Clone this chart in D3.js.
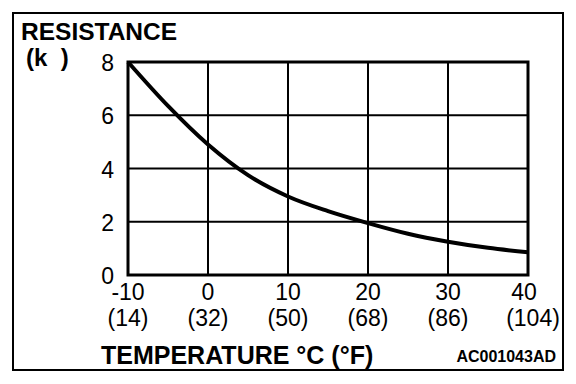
<!DOCTYPE html>
<html>
<head>
<meta charset="utf-8">
<script src="https://cdn.jsdelivr.net/npm/d3@7"></script>
<style>
  body { margin: 0; background: #fff; }
  svg { display: block; }
</style>
</head>
<body>
<svg id="chart"></svg>
<script>
const width = 576;
const height = 384;

// data
const temps = [-10, -5, 0, 5, 10, 15, 20, 25, 30, 35, 40];
const resistance = [8.0, 6.35, 4.9, 3.75, 2.95, 2.4, 1.95, 1.55, 1.25, 1.02, 0.85];
const xTicks = [-10, 0, 10, 20, 30, 40];
const xTicksF = ["(14)", "(32)", "(50)", "(68)", "(86)", "(104)"];
const yTicks = [0, 2, 4, 6, 8];

const font = "Liberation Sans, Arial, sans-serif";
const margin = { top: 62, right: 48, bottom: 109, left: 128 };

const svg = d3.select("#chart")
  .attr("width", width)
  .attr("height", height)
  .attr("viewBox", `0 0 ${width} ${height}`)
  .attr("font-family", font);

// outer frame
svg.append("rect")
  .attr("x", 13).attr("y", 13)
  .attr("width", 550).attr("height", 357)
  .attr("fill", "none").attr("stroke", "#000").attr("stroke-width", 2);

const innerWidth = width - margin.left - margin.right;
const innerHeight = height - margin.top - margin.bottom;

// scales in page coordinates
const xScale = d3.scaleLinear().domain([-10, 40]).range([margin.left, margin.left + innerWidth]);
const yScale = d3.scaleLinear().domain([0, 8]).range([margin.top + innerHeight, margin.top]);

// grid
svg.selectAll(".vgrid")
  .data(xTicks)
  .enter().append("line")
  .attr("x1", d => xScale(d)).attr("x2", d => xScale(d))
  .attr("y1", yScale(8)).attr("y2", yScale(0))
  .attr("stroke", "#000").attr("stroke-width", 2);

svg.selectAll(".hgrid")
  .data(yTicks)
  .enter().append("line")
  .attr("x1", xScale(-10)).attr("x2", xScale(40))
  .attr("y1", d => yScale(d)).attr("y2", d => yScale(d))
  .attr("stroke", "#000").attr("stroke-width", 2);

// plot frame
svg.append("rect")
  .attr("x", margin.left).attr("y", margin.top)
  .attr("width", innerWidth).attr("height", innerHeight)
  .attr("fill", "none").attr("stroke", "#000").attr("stroke-width", 3);

// y labels
svg.selectAll(".ylab")
  .data(yTicks)
  .enter().append("text")
  .attr("x", margin.left - 14)
  .attr("y", d => yScale(d) + 9)
  .attr("text-anchor", "end")
  .attr("font-size", 23)
  .text(d => d);

// x labels (°C and °F)
const last = xTicks.length - 1;
svg.selectAll(".xlab")
  .data(xTicks)
  .enter().append("text")
  .attr("x", (d, i) => xScale(d) + (i === last ? -4 : 0))
  .attr("y", yScale(0) + 25)
  .attr("text-anchor", "middle")
  .attr("font-size", 23)
  .text(d => d);

svg.selectAll(".xlabf")
  .data(xTicksF)
  .enter().append("text")
  .attr("x", (d, i) => xScale(xTicks[i]) + (i === last ? 5 : 0))
  .attr("y", yScale(0) + 51)
  .attr("text-anchor", "middle")
  .attr("font-size", 23)
  .text(d => d);

// curve
const line = d3.line()
  .x((d, i) => xScale(temps[i]))
  .y(d => yScale(d))
  .curve(d3.curveMonotoneX);

svg.append("path")
  .datum(resistance)
  .attr("d", line)
  .attr("fill", "none")
  .attr("stroke", "#000")
  .attr("stroke-width", 4);

// titles
svg.append("text")
  .attr("x", 21).attr("y", 40)
  .attr("font-size", 24.5).attr("font-weight", "bold")
  .text("RESISTANCE");

svg.append("text")
  .attr("x", 26).attr("y", 66)
  .attr("font-size", 24).attr("font-weight", "bold")
  .attr("xml:space", "preserve")
  .text("(k  )");

svg.append("text")
  .attr("x", 101).attr("y", 364)
  .attr("font-size", 25).attr("font-weight", "bold")
  .text("TEMPERATURE °C (°F)");

svg.append("text")
  .attr("x", 556).attr("y", 362)
  .attr("text-anchor", "end")
  .attr("font-size", 16).attr("font-weight", "bold")
  .text("AC001043AD");
</script>
</body>
</html>
